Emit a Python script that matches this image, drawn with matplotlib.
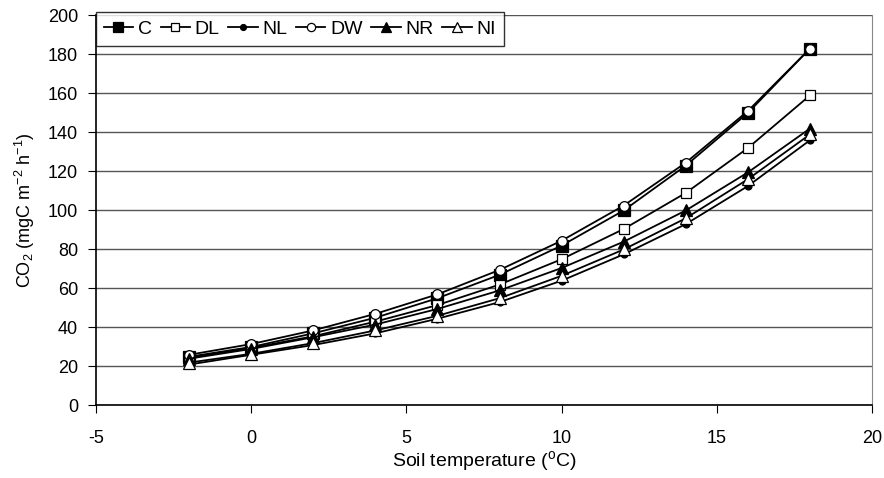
import numpy as np
import matplotlib.pyplot as plt

plt.rcParams['font.family'] = ['Liberation Sans', 'DejaVu Sans']
plt.rcParams['mathtext.fontset'] = 'custom'
plt.rcParams['mathtext.rm'] = 'Liberation Sans'
plt.rcParams['axes.unicode_minus'] = False

# soil temperature (x) and CO2 flux for each treatment
temp = [-2, 0, 2, 4, 6, 8, 10, 12, 14, 16, 18]
c_vals = [25, 30, 37, 45, 55, 67, 82, 100, 123, 150, 183]
dl_vals = [24.5, 29.5, 35.5, 43, 51.5, 62, 75, 90.5, 109, 132, 159]
nl_vals = [21, 26, 31, 37, 44.5, 53, 64, 77.5, 93, 112.5, 136]
dw_vals = [26, 31.5, 38.5, 47, 57, 69.5, 84.5, 102.5, 124.5, 151, 183]
nr_vals = [24, 29, 35, 41.5, 49.5, 59, 70.5, 84, 100, 119.5, 142]
ni_vals = [22, 26.5, 32, 38.5, 46, 55, 66.5, 80, 96, 116, 139]

fig = plt.figure(figsize=(8.84, 4.78), dpi=100)
ax = fig.add_axes([0.1086, 0.1517, 0.8778, 0.8159])

# series: label, values, marker, face colour, size
series = [
    ("C", c_vals, "s", "black", 8),
    ("DL", dl_vals, "s", "white", 7),
    ("NL", nl_vals, "o", "black", 5),
    ("DW", dw_vals, "o", "white", 7),
    ("NR", nr_vals, "^", "black", 8),
    ("NI", ni_vals, "^", "white", 8),
]
for lab, vals, mk, fc, ms in series:
    ax.plot(temp, vals, color="black", lw=1.3, marker=mk, markersize=ms,
            markerfacecolor=fc, markeredgecolor="black", markeredgewidth=0.9,
            label=lab)

ax.set_xlim(-5, 20)
ax.set_ylim(0, 200)
ax.set_xticks(np.arange(-5, 21, 5))
ax.set_yticks(np.arange(0, 201, 20))
ax.yaxis.grid(True, color="#555555", lw=1)
ax.set_axisbelow(True)
ax.tick_params(direction="out", length=6, labelsize=13, color="black")
ax.tick_params(axis="x", pad=12)
ax.tick_params(axis="y", pad=7)
for s in ["left", "bottom"]:
    ax.spines[s].set_linewidth(1.2)
ax.spines["top"].set_visible(False)
ax.spines["right"].set_color("#888888")

ax.set_xlabel("Soil temperature ($^{\\mathrm{o}}$C)", fontsize=14, labelpad=1)
ax.set_ylabel("CO$_{\\mathrm{2}}$ (mgC m$^{\\mathrm{-2}}$ h$^{\\mathrm{-1}}$)",
              fontsize=13, labelpad=8)

# legend: one row, boxed, top left
leg = ax.legend(ncol=6, loc="upper left", bbox_to_anchor=(0.0, 1.008),
                fontsize=14, frameon=True, fancybox=False, edgecolor="black",
                handlelength=1.5, handletextpad=0.25, columnspacing=0.45,
                borderpad=0.4, borderaxespad=0.0, markerscale=0.85)
leg.get_frame().set_linewidth(1.0)

fig.savefig("out.png", dpi=100)
